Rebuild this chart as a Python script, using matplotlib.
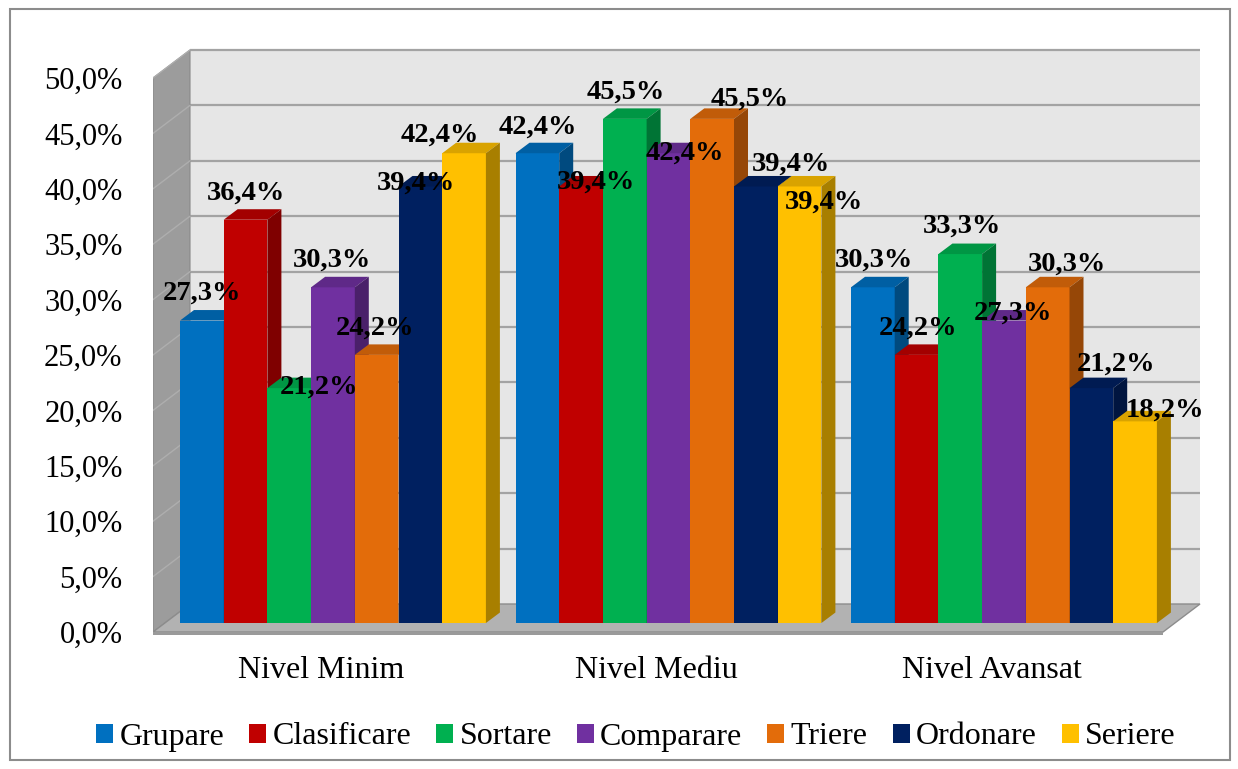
import numpy as np
import matplotlib
matplotlib.use("Agg")
import matplotlib.pyplot as plt
from matplotlib.patches import Polygon, Rectangle, Patch
from matplotlib.colors import to_rgb

# ---------------- data ----------------
categories = ["Nivel Minim", "Nivel Mediu", "Nivel Avansat"]
series = ["Grupare", "Clasificare", "Sortare", "Comparare", "Triere", "Ordonare", "Seriere"]
grupare = [27.3, 42.4, 30.3]
clasificare = [36.4, 39.4, 24.2]
sortare = [21.2, 45.5, 33.3]
comparare = [30.3, 42.4, 27.3]
triere = [24.2, 45.5, 30.3]
ordonare = [39.4, 39.4, 21.2]
seriere = [42.4, 39.4, 18.2]
yticks = [0, 5, 10, 15, 20, 25, 30, 35, 40, 45, 50]

values = [grupare, clasificare, sortare, comparare, triere, ordonare, seriere]

# ---------------- style / layout ----------------
colors = ["#0070C0", "#C00000", "#00B050", "#7030A0", "#E36C0A", "#002060", "#FFC000"]
FONT = "Liberation Serif"
plt.rcParams["font.family"] = [FONT, "DejaVu Serif"]

W, H = 1238, 769
BAR_PX = 43.7       # pixels per bar width unit
PCT_PX = 11.08      # pixels per percent
X0_PX = 153         # x pixel of data x=0
Y0_PX = 632         # y pixel of 0 %
GROUP_STEP = 335.5 / BAR_PX
FIRST = (180 - X0_PX) / BAR_PX
BASE = 0.81         # bars sit at middle depth
WALL_DX = 37 / BAR_PX
WALL_DY = 28 / PCT_PX
BAR_DX = 14 / BAR_PX
BAR_DY = 10.5 / PCT_PX

# label offsets in pixels (dx right, dy down) per group, per series
label_off = [
    [(0, -27.5), (0, -27), (30, -1), (-1, -27), (-2, -27), (-4, -3.5), (-24, -18)],
    [(0, -26), (15, -4.5), (1, -27), (16, 0), (38, -20), (35, -22), (24, 16)],
    [(1, -27), (1, -27), (2, -28), (9, -7.5), (19, -23), (25, -24), (30, -11)],
]

fig = plt.figure(figsize=(W / 100, H / 100), dpi=100)
ymin, ymax = -2, 53
bot_px = Y0_PX - ymin * PCT_PX
top_px = Y0_PX - ymax * PCT_PX
x_right_px = 1215
ax = fig.add_axes([X0_PX / W, (H - bot_px) / H, (x_right_px - X0_PX) / W, (bot_px - top_px) / H])
ax.set_xlim(0, (x_right_px - X0_PX) / BAR_PX)
ax.set_ylim(ymin, ymax)
ax.patch.set_alpha(0)
for s in ax.spines.values():
    s.set_visible(False)

# ---------------- walls ----------------
back_right = (1200 - X0_PX) / BAR_PX
front_right = (1163 - X0_PX) / BAR_PX
top = yticks[-1]
# back wall
ax.add_patch(Polygon([(WALL_DX, WALL_DY), (back_right, WALL_DY), (back_right, top + WALL_DY),
                      (WALL_DX, top + WALL_DY)], closed=True, fc="#e6e6e6", ec="none", zorder=0))
# side wall
ax.add_patch(Polygon([(0, 0), (WALL_DX, WALL_DY), (WALL_DX, top + WALL_DY), (0, top)],
                     closed=True, fc="#9c9c9c", ec="#8a8a8a", lw=0.8, zorder=0.5))
# floor
ax.add_patch(Polygon([(0, 0), (front_right, 0), (back_right, WALL_DY), (WALL_DX, WALL_DY)],
                     closed=True, fc="#b2b2b2", ec="#8c8c8c", lw=1.0, zorder=0.6))
ax.add_patch(Polygon([(0, 0), (front_right, 0), (front_right, -0.3), (0, -0.3)],
                     closed=True, fc="#9a9a9a", ec="none", zorder=0.6))
# gridlines
for v in yticks:
    if v == 0:
        continue
    ax.plot([WALL_DX, back_right], [v + WALL_DY, v + WALL_DY], color="#a3a3a3", lw=1.6, zorder=0.3,
            solid_capstyle="butt")
    ax.plot([0, WALL_DX], [v, v + WALL_DY], color="#aeaeae", lw=1.0, zorder=0.55)


def shade(c, f):
    r, g, b = to_rgb(c)
    return (r * f, g * f, b * f)


# ---------------- bars ----------------
z = 2
for g in range(len(categories)):
    for i, (name, vals) in enumerate(zip(series, values)):
        v = vals[g]
        left = FIRST + g * GROUP_STEP + i
        c = colors[i]
        ax.bar(left, v, width=1, bottom=BASE, align="edge", color=c, edgecolor="none", zorder=z)
        t = BASE + v
        ax.add_patch(Polygon([(left, t), (left + 1, t), (left + 1 + BAR_DX, t + BAR_DY),
                              (left + BAR_DX, t + BAR_DY)], closed=True,
                             fc=shade(c, 0.85), ec="none", zorder=z))
        ax.add_patch(Polygon([(left + 1, BASE), (left + 1 + BAR_DX, BASE + BAR_DY),
                              (left + 1 + BAR_DX, t + BAR_DY), (left + 1, t)], closed=True,
                             fc=shade(c, 0.66), ec="none", zorder=z))
        z += 1

# ---------------- data labels ----------------
for g in range(len(categories)):
    for i, vals in enumerate(values):
        v = vals[g]
        cx = FIRST + g * GROUP_STEP + i + 0.5
        dx, dy = label_off[g][i]
        ax.annotate(f"{v:.1f}%".replace(".", ","), xy=(cx, BASE + v),
                    xytext=(dx * 0.72, -dy * 0.72), textcoords="offset points",
                    ha="center", va="center", fontsize=20.5, fontweight="bold",
                    family=FONT, color="black", zorder=100)

# ---------------- axes ticks ----------------
ax.set_yticks(yticks)
ax.set_yticklabels([f"{v:.1f}%".replace(".", ",") for v in yticks], fontsize=22, family=FONT)
ax.tick_params(axis="y", length=0, pad=22)
gcenters = [FIRST + g * GROUP_STEP + len(series) / 2 - 0.27 for g in range(len(categories))]
ax.set_xticks(gcenters)
ax.set_xticklabels(categories, fontsize=23, family=FONT)
ax.tick_params(axis="x", length=0, pad=1)

# ---------------- legend ----------------
handles = [Patch(facecolor=c, edgecolor="none") for c in colors]
fig.legend(handles, series, loc="center", bbox_to_anchor=(636 / W, 1 - 737 / H), ncol=7,
           frameon=False, prop={"family": FONT, "size": 23}, handlelength=0.53,
           handleheight=0.55, handletextpad=0.2, columnspacing=0.78, borderpad=0,
           borderaxespad=0)

# ---------------- border ----------------
fig.add_artist(Rectangle((10 / W, 9 / H), (1230 - 10) / W, (760 - 9) / H, transform=fig.transFigure,
                         fill=False, ec="#8c8c8c", lw=1.5))

fig.savefig("out.png", dpi=100)
